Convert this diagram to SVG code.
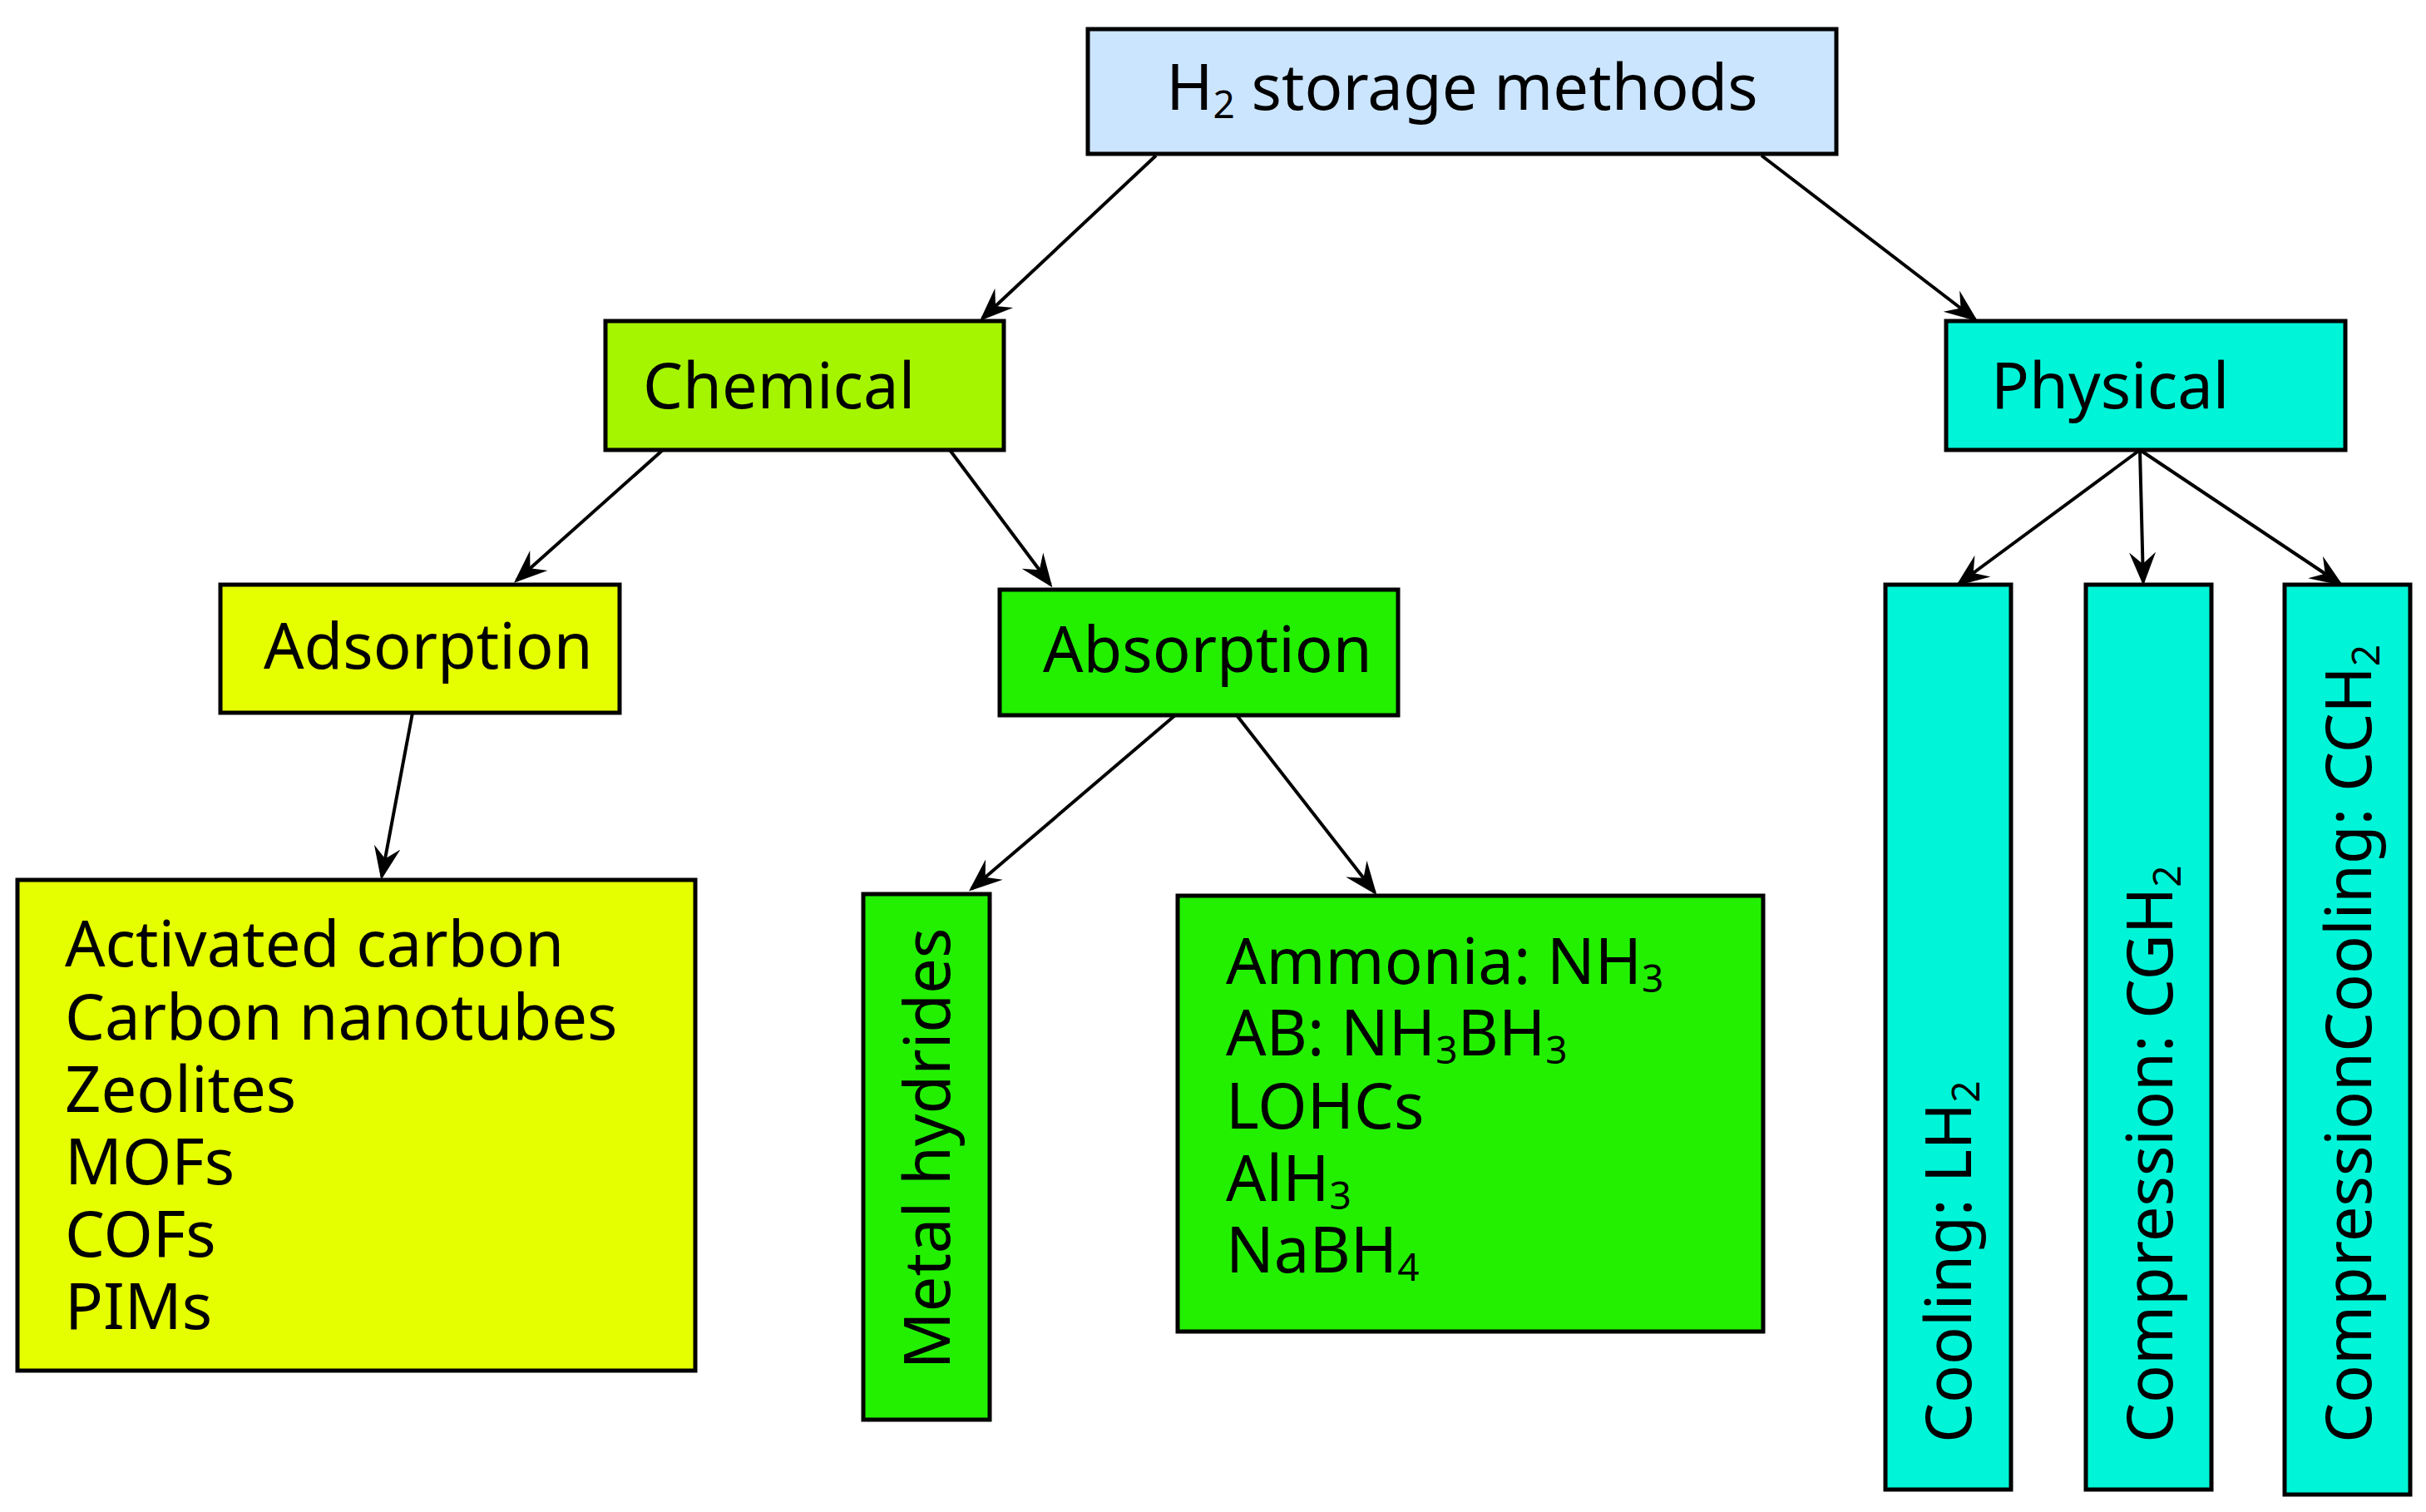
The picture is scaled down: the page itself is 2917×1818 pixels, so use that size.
<svg xmlns="http://www.w3.org/2000/svg" width="2917" height="1818" viewBox="0 0 2917 1818">
<style>
.b{stroke:#000;stroke-width:5}
text{font-family:"Noto Sans","Open Sans",sans-serif;font-size:76px;fill:#000}
.s{font-size:46px}
.c line{stroke:#000;stroke-width:4;marker-end:url(#a)}
</style>
<defs><marker id="a" viewBox="0 0 20 20" refX="18" refY="10" markerWidth="40" markerHeight="40" orient="auto" markerUnits="userSpaceOnUse"><path d="M0,2 L20,10 L0,18 L7,10 Z" fill="#000"/></marker></defs>
<rect width="2917" height="1818" fill="#fff"/>
<g id="root"><rect class="b" x="1308" y="35" width="900" height="150" fill="#cce5ff"/><text x="1758" y="132" text-anchor="middle">H<tspan class="s" dy="10">2</tspan><tspan dy="-10"> storage methods</tspan></text></g>
<g id="chemical"><rect class="b" x="728" y="386" width="479" height="155" fill="#a5f500"/><text x="773" y="491">Chemical</text></g>
<g id="physical"><rect class="b" x="2340" y="386" width="480" height="155" fill="#00f5d8"/><text x="2394" y="491">Physical</text></g>
<g id="adsorption"><rect class="b" x="265" y="703" width="480" height="154" fill="#e6ff00"/><text x="317" y="804">Adsorption</text></g>
<g id="absorption"><rect class="b" x="1202" y="709" width="479" height="151" fill="#22f000"/><text x="1254" y="808">Absorption</text></g>
<g id="adslist"><rect class="b" x="21" y="1058" width="815" height="590" fill="#e6ff00"/>
<text x="78" y="1162">Activated carbon</text><text x="78" y="1250">Carbon nanotubes</text><text x="78" y="1337">Zeolites</text><text x="78" y="1424">MOFs</text><text x="78" y="1511">COFs</text><text x="78" y="1598">PIMs</text></g>
<g id="metal"><rect class="b" x="1038" y="1075" width="152" height="632" fill="#22f000"/><text transform="translate(1142,1381) rotate(-90)" text-anchor="middle">Metal hydrides</text></g>
<g id="abslist"><rect class="b" x="1416" y="1077" width="704" height="524" fill="#22f000"/>
<text x="1474" y="1183">Ammonia: NH<tspan class="s" dy="10">3</tspan></text>
<text x="1474" y="1269">AB: NH<tspan class="s" dy="10">3</tspan><tspan dy="-10">BH</tspan><tspan class="s" dy="10">3</tspan></text>
<text x="1474" y="1357">LOHCs</text>
<text x="1474" y="1444">AlH<tspan class="s" dy="10">3</tspan></text>
<text x="1474" y="1530">NaBH<tspan class="s" dy="10">4</tspan></text></g>
<g id="cooling"><rect class="b" x="2267" y="703" width="151" height="1088" fill="#00f5d8"/><text transform="translate(2370,1735) rotate(-90)">Cooling: LH<tspan class="s" dy="10">2</tspan></text></g>
<g id="compression"><rect class="b" x="2508" y="703" width="151" height="1088" fill="#00f5d8"/><text transform="translate(2612,1735) rotate(-90)">Compression: CGH<tspan class="s" dy="10">2</tspan></text></g>
<g id="compcool"><rect class="b" x="2747" y="703" width="151" height="1094" fill="#00f5d8"/><text transform="translate(2851,1735) rotate(-90)">CompressionCooling: CCH<tspan class="s" dy="10">2</tspan></text></g>
<g id="connectors" class="c">
<line x1="1390" y1="187" x2="1181" y2="383"/>
<line x1="2118" y1="187" x2="2375" y2="384"/>
<line x1="797" y1="541" x2="621" y2="698"/>
<line x1="1142" y1="541" x2="1263" y2="703"/>
<line x1="496" y1="857" x2="459" y2="1054"/>
<line x1="1413" y1="860" x2="1168" y2="1069"/>
<line x1="1487" y1="860" x2="1653" y2="1073"/>
<line x1="2573" y1="541" x2="2355" y2="702"/>
<line x1="2573" y1="541" x2="2577" y2="700"/>
<line x1="2573" y1="541" x2="2814" y2="702"/>
</g>
</svg>
